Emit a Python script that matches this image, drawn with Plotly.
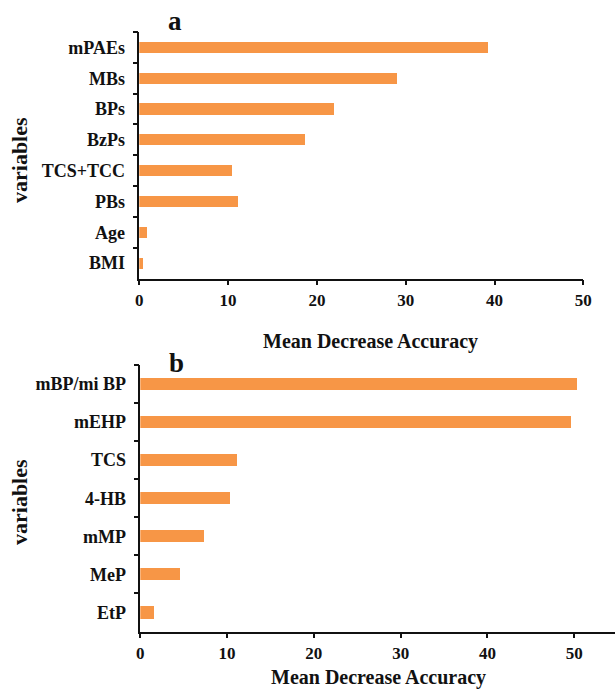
import plotly.graph_objects as go

# Panel a
cats_a = ["mPAEs", "MBs", "BPs", "BzPs", "TCS+TCC", "PBs", "Age", "BMI"]
vals_a = [39.3, 29.0, 22.0, 18.7, 10.5, 11.2, 0.9, 0.5]

# Panel b
cats_b = ["mBP/mi BP", "mEHP", "TCS", "4-HB", "mMP", "MeP", "EtP"]
vals_b = [50.3, 49.7, 11.2, 10.4, 7.4, 4.6, 1.6]

x_ticks = [0, 10, 20, 30, 40, 50]
x_title = "Mean Decrease Accuracy"
y_title = "variables"

BAR = "#F79646"
FONT = "Liberation Serif"
W, H = 615, 690

fig = go.Figure()
fig.add_trace(go.Bar(x=vals_a, y=cats_a, orientation="h", marker=dict(color=BAR, line=dict(width=0)),
                     width=0.36, xaxis="x", yaxis="y", showlegend=False))
fig.add_trace(go.Bar(x=vals_b, y=cats_b, orientation="h", marker=dict(color=BAR, line=dict(width=0)),
                     width=0.32, xaxis="x2", yaxis="y2", showlegend=False))

yfont = dict(family=FONT, size=18, color="#111", weight="bold")
xfont = dict(family=FONT, size=17, color="#111", weight="bold")
xcommon = dict(showgrid=False, zeroline=False, showline=True, linecolor="#111", linewidth=1.5,
               ticks="outside", ticklen=5, tickwidth=1.5, tickcolor="#111",
               tickvals=x_ticks, tickfont=xfont, automargin=False, fixedrange=True)
ycommon = dict(showgrid=False, zeroline=False, showline=True, linecolor="#111", linewidth=1.5,
               ticks="outside", ticklen=5, tickwidth=1.5, tickcolor="#111", tickson="boundaries",
               autorange="reversed", tickfont=yfont, automargin=False,
               ticklabelstandoff=9, fixedrange=True)

fig.update_layout(
    width=W, height=H,
    margin=dict(l=0, r=0, t=0, b=0),
    paper_bgcolor="white", plot_bgcolor="white",
    bargap=0,
    xaxis=dict(domain=[139.3 / W, 583.3 / W], range=[0, 50], anchor="y", **xcommon),
    yaxis=dict(domain=[1 - 278.5 / H, 1 - 32 / H], anchor="x", **ycommon),
    xaxis2=dict(domain=[140.3 / W, 1.0], range=[0, 54.7], anchor="y2", **xcommon),
    yaxis2=dict(domain=[1 - 631.5 / H, 1 - 365 / H], anchor="x2", **ycommon),
)

def ann(text, x, y, size, angle=0):
    fig.add_annotation(text=f"<b>{text}</b>", x=x / W, y=1 - y / H, xref="paper", yref="paper",
                       showarrow=False, textangle=angle, xanchor="center", yanchor="middle",
                       font=dict(family=FONT, size=size, color="#111"))

ann("a", 175, 21, 27)
ann("b", 176, 363, 27)
ann(y_title, 19, 160, 22, -90)
ann(y_title, 20, 502, 22, -90)
ann(x_title, 370, 341, 20)
ann(x_title, 378, 677, 20)

fig.write_html("out.html", config={"displayModeBar": False},
               post_script="document.body.style.margin='0';document.body.style.overflow='hidden';")
